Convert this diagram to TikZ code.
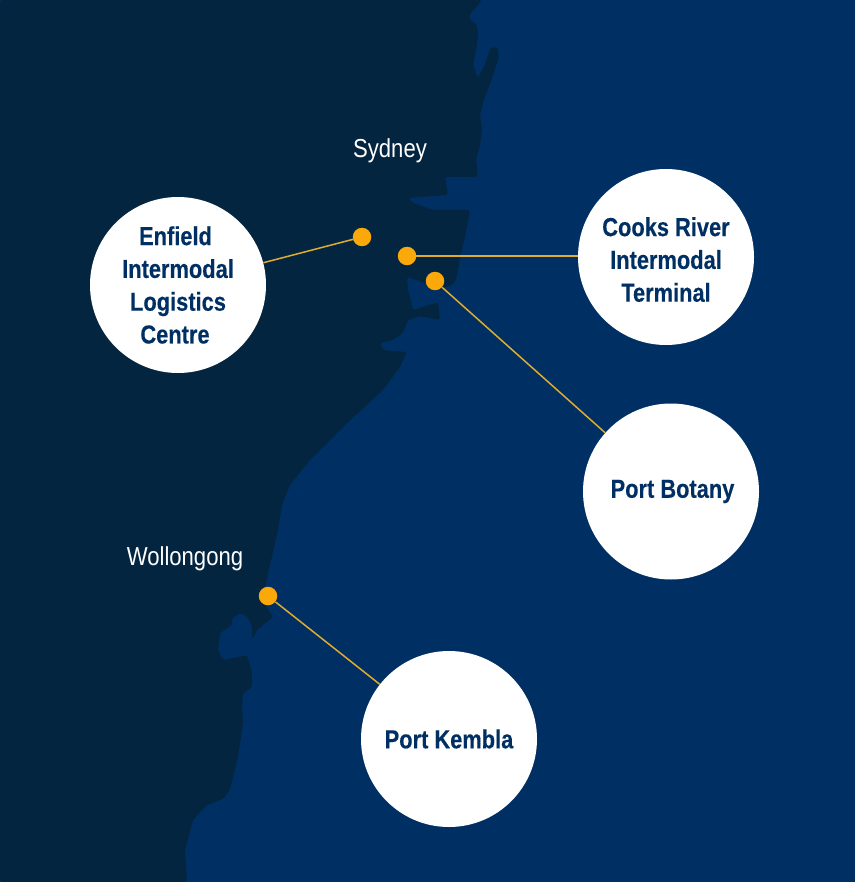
\documentclass[tikz,border=0pt]{standalone}
\usepackage{fontspec}
\setmainfont{Liberation Sans}
\newfontfamily\cityfont[FakeStretch=0.85]{Liberation Sans}
\newfontfamily\hubfont[FakeStretch=0.84,FakeBold=0.3]{Liberation Sans Bold}
\definecolor{sea}{HTML}{003063}
\definecolor{land}{HTML}{04253F}
\definecolor{amber}{HTML}{FAA80A}
\definecolor{wire}{HTML}{E0AC2F}
\tikzset{
  hub/.style={circle,fill=white,minimum size=176pt,inner sep=0pt,align=center,text=sea,font=\hubfont\fontsize{26}{32.8}\selectfont},
  dot/.style={circle,fill=amber,minimum size=18.5pt,inner sep=0pt},
  city/.style={text=white,font=\cityfont\fontsize{26}{30}\selectfont},
  wirel/.style={draw=wire,line width=1.5pt}
}
\begin{document}
\begin{tikzpicture}[x=1pt,y=-1pt]
\useasboundingbox (0,0) rectangle (855,882);
\fill[sea] (0,0) rectangle (855,882);
\fill[land,rounded corners=2.5pt] (0,0) -- (482,0) -- (478,5) -- (470,14) -- (469,19) -- (477,25) -- (478,35) -- (477,45) -- (473,65) -- (478,78) -- (486,62) -- (490,48) -- (497,47) -- (499,57) -- (492,78) -- (484,100) -- (480,115) -- (482,130) -- (480,145) -- (476,160) -- (478,177) -- (445,177) -- (448,195) -- (408,198) -- (413,203) -- (433,210) -- (470,210) -- (465,237) -- (460,257) -- (457,277) -- (453,285) -- (440,288) -- (407,277) -- (408,290) -- (413,310) -- (438,302) -- (440,320) -- (420,316) -- (408,320) -- (403,333) -- (393,340) -- (380,343) -- (383,350) -- (407,352) -- (400,367) -- (383,390) -- (345,425) -- (310,460) -- (290,485) -- (282,505) -- (278,530) -- (270,565) -- (262,600) -- (273,617) -- (257,630) -- (252,640) -- (252,627) -- (248,617) -- (240,613) -- (232,618) -- (232,625) -- (220,633) -- (218,650) -- (223,660) -- (247,655) -- (252,673) -- (252,687) -- (243,693) -- (242,707) -- (243,723) -- (238,757) -- (230,790) -- (223,799) -- (207,805) -- (193,820) -- (185,850) -- (187,882) -- (0,882) -- cycle;
\node[dot] (d1) at (362,237) {};
\node[dot] (d2) at (407,256) {};
\node[dot] (d3) at (435,281) {};
\node[dot] (d4) at (268,596) {};
\node[hub] (enfield) at (178,285) {Enfield\hspace*{5pt}\\Intermodal\\Logistics\\Centre\hspace*{6pt}};
\node[hub] (cooks) at (666,257) {\rule{0pt}{24pt}Cooks River\\Intermodal\\Terminal};
\node[hub] (botany) at (671,491.5) {\raisebox{-5pt}{\hspace*{3pt}Port Botany}};
\node[hub] (kembla) at (449,739) {Port Kembla};
\draw[wirel] (d1) -- (enfield);
\draw[wirel] (d2) -- (cooks.west |- d2);
\draw[wirel] (d3) -- (botany);
\draw[wirel] (d4) -- (kembla);
\node[city] (sydney) at (390,151) {Sydney};
\node[city] (wollongong) at (185,558.5) {Wollongong};
\end{tikzpicture}
\end{document}
